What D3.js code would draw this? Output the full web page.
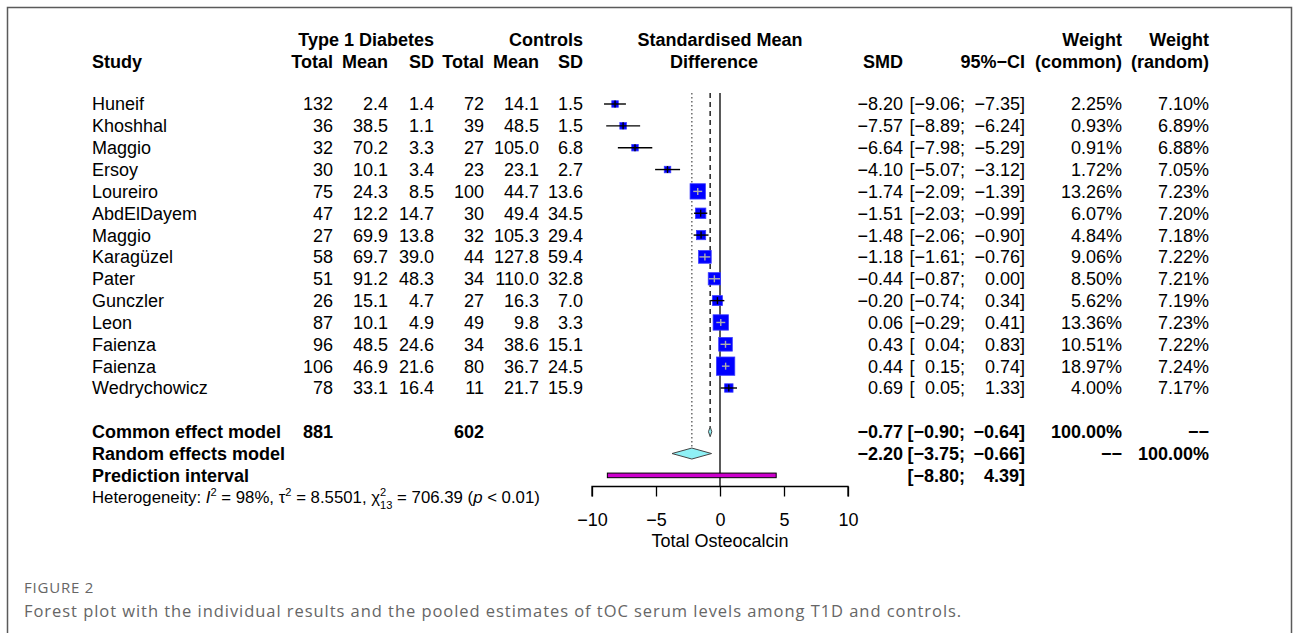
<!DOCTYPE html>
<html>
<head>
<meta charset="utf-8">
<script src="https://cdn.jsdelivr.net/npm/d3@7"></script>
<style>
  body { margin: 0; background: #fff; }
  svg { display: block; }
  text { font-family: "Liberation Sans", Arial, Helvetica, sans-serif; white-space: pre; }
  text.cap { font-family: "Open Sans", sans-serif; }
</style>
</head>
<body>
<svg id="chart" width="1293" height="633"></svg>
<script>
// ---------- data ----------
const studies   = ["Huneif","Khoshhal","Maggio","Ersoy","Loureiro","AbdElDayem","Maggio","Karagüzel","Pater","Gunczler","Leon","Faienza","Faienza","Wedrychowicz"];
const t1dTotal  = [132, 36, 32, 30, 75, 47, 27, 58, 51, 26, 87, 96, 106, 78];
const t1dMean   = ["2.4","38.5","70.2","10.1","24.3","12.2","69.9","69.7","91.2","15.1","10.1","48.5","46.9","33.1"];
const t1dSD     = ["1.4","1.1","3.3","3.4","8.5","14.7","13.8","39.0","48.3","4.7","4.9","24.6","21.6","16.4"];
const ctlTotal  = [72, 39, 27, 23, 100, 30, 32, 44, 34, 27, 49, 34, 80, 11];
const ctlMean   = ["14.1","48.5","105.0","23.1","44.7","49.4","105.3","127.8","110.0","16.3","9.8","38.6","36.7","21.7"];
const ctlSD     = ["1.5","1.5","6.8","2.7","13.6","34.5","29.4","59.4","32.8","7.0","3.3","15.1","24.5","15.9"];
const smd       = [-8.20, -7.57, -6.64, -4.10, -1.74, -1.51, -1.48, -1.18, -0.44, -0.20, 0.06, 0.43, 0.44, 0.69];
const ciLow     = [-9.06, -8.89, -7.98, -5.07, -2.09, -2.03, -2.06, -1.61, -0.87, -0.74, -0.29, 0.04, 0.15, 0.05];
const ciHigh    = [-7.35, -6.24, -5.29, -3.12, -1.39, -0.99, -0.90, -0.76, 0.00, 0.34, 0.41, 0.83, 0.74, 1.33];
const wCommon   = [2.25, 0.93, 0.91, 1.72, 13.26, 6.07, 4.84, 9.06, 8.50, 5.62, 13.36, 10.51, 18.97, 4.00];
const wRandom   = [7.10, 6.89, 6.88, 7.05, 7.23, 7.20, 7.18, 7.22, 7.21, 7.19, 7.23, 7.22, 7.24, 7.17];

const common    = {label: "Common effect model", t1d: 881, ctl: 602, est: -0.77, lo: -0.90, hi: -0.64, wc: "100.00%", wr: "−−"};
const random    = {label: "Random effects model", est: -2.20, lo: -3.75, hi: -0.66, wc: "−−", wr: "100.00%"};
const predict   = {label: "Prediction interval", lo: -8.80, hi: 4.39};
const xTicks    = [-10, -5, 0, 5, 10];
const xLabel    = "Total Osteocalcin";
const caption1  = "FIGURE 2";
const caption2  = "Forest plot with the individual results and the pooled estimates of tOC serum levels among T1D and controls.";

// ---------- helpers ----------
const minus = s => String(s).replace(/-/g, "−");
const f2 = v => minus(v.toFixed(2));

const svg = d3.select("#chart");
const FS = 18;

// frame
svg.append("path").attr("d", "M7.5,633 V7.5 H1291.5 V633")
  .attr("fill", "none").attr("stroke", "#5a5a5a").attr("stroke-width", 1.5);

// scales
const x = d3.scaleLinear().domain([-10, 10]).range([592, 848]);
const y = d3.scaleLinear().domain([0, 13]).range([104, 388]);
const yCommon = y(15), yRandom = y(16), yPred = y(17), yHet = y(18);
const yHead1 = 40, yHead2 = 62;
const axisY = 486.5;

function txt(xp, yp, s, opts = {}) {
  return svg.append("text")
    .attr("x", xp).attr("y", yp).attr("dy", "0.36em")
    .attr("text-anchor", opts.anchor || "end")
    .attr("font-size", opts.size || FS)
    .attr("font-weight", opts.bold ? "bold" : "normal")
    .attr("fill", opts.fill || "#000")
    .text(s);
}

// column right edges
const col = {t1dT: 333, t1dM: 388, t1dS: 434, ctlT: 484, ctlM: 539, ctlS: 583,
             smd: 903, ciL: 965, ciR: 1025, wc: 1122, wr: 1209, study: 92};

// ---------- header ----------
txt(col.t1dS, yHead1, "Type 1 Diabetes", {bold: true});
txt(col.ctlS, yHead1, "Controls", {bold: true});
txt(720, yHead1, "Standardised Mean", {bold: true, anchor: "middle"});
txt(714, yHead2, "Difference", {bold: true, anchor: "middle"});
txt(col.wc, yHead1, "Weight", {bold: true});
txt(col.wr, yHead1, "Weight", {bold: true});
txt(col.study, yHead2, "Study", {bold: true, anchor: "start"});
[["Total", col.t1dT], ["Mean", col.t1dM], ["SD", col.t1dS], ["Total", col.ctlT], ["Mean", col.ctlM], ["SD", col.ctlS],
 ["SMD", col.smd], ["95%−CI", col.ciR], ["(common)", col.wc], ["(random)", col.wr]]
  .forEach(([s, xp]) => txt(xp, yHead2, s, {bold: true}));

// ---------- CI text ----------
function ciText(yp, lo, hi, bold) {
  const probe = txt(0, -100, "−0.00;", {bold});
  const wl = probe.node().getComputedTextLength();
  probe.remove();
  txt(col.ciL - wl, yp, "[", {bold});
  txt(col.ciL, yp, f2(lo) + ";", {bold});
  txt(col.ciR, yp, f2(hi) + "]", {bold});
}

// ---------- study rows ----------
studies.forEach((s, i) => {
  const yp = y(i);
  txt(col.study, yp, s, {anchor: "start"});
  txt(col.t1dT, yp, t1dTotal[i]);
  txt(col.t1dM, yp, t1dMean[i]);
  txt(col.t1dS, yp, t1dSD[i]);
  txt(col.ctlT, yp, ctlTotal[i]);
  txt(col.ctlM, yp, ctlMean[i]);
  txt(col.ctlS, yp, ctlSD[i]);
  txt(col.smd, yp, f2(smd[i]));
  ciText(yp, ciLow[i], ciHigh[i], false);
  txt(col.wc, yp, wCommon[i].toFixed(2) + "%");
  txt(col.wr, yp, wRandom[i].toFixed(2) + "%");
});

// ---------- pooled rows ----------
txt(col.study, yCommon, common.label, {anchor: "start", bold: true});
txt(col.t1dT, yCommon, common.t1d, {bold: true});
txt(col.ctlT, yCommon, common.ctl, {bold: true});
txt(col.smd, yCommon, f2(common.est), {bold: true});
ciText(yCommon, common.lo, common.hi, true);
txt(col.wc, yCommon, common.wc, {bold: true});
txt(col.wr, yCommon, common.wr, {bold: true});

txt(col.study, yRandom, random.label, {anchor: "start", bold: true});
txt(col.smd, yRandom, f2(random.est), {bold: true});
ciText(yRandom, random.lo, random.hi, true);
txt(col.wc, yRandom, random.wc, {bold: true});
txt(col.wr, yRandom, random.wr, {bold: true});

txt(col.study, yPred, predict.label, {anchor: "start", bold: true});
ciText(yPred, predict.lo, predict.hi, true);

// heterogeneity line
(function () {
  const hs = 16.8;
  const pieces = [
    {t: "Heterogeneity: "}, {t: "I", it: true}, {t: "2", sup: true}, {t: " = 98%, τ"}, {t: "2", sup: true},
    {t: " = 8.5501, χ"}, {t: "2", sup: true, stack: "13"}, {t: " = 706.39 ("}, {t: "p", it: true}, {t: " < 0.01)"}
  ];
  let cx = col.study;
  const base = yHet + hs * 0.36;
  pieces.forEach(p => {
    const size = (p.sup ? hs * 0.66 : hs);
    const t = svg.append("text").attr("x", cx).attr("y", p.sup ? base - hs * 0.45 : base)
      .attr("font-size", size).attr("font-style", p.it ? "italic" : "normal").text(p.t);
    let w = t.node().getComputedTextLength();
    if (p.stack) {
      const t2 = svg.append("text").attr("x", cx).attr("y", base + hs * 0.34)
        .attr("font-size", size).text(p.stack);
      w = Math.max(w, t2.node().getComputedTextLength());
    }
    cx += w;
  });
})();

// ---------- forest plot ----------
const g = svg.append("g");
const yTop = 93;

// reference lines
g.append("line").attr("x1", x(0)).attr("x2", x(0)).attr("y1", yTop).attr("y2", axisY)
  .attr("stroke", "#000").attr("stroke-width", 1.3);
g.append("line").attr("x1", x(common.est)).attr("x2", x(common.est)).attr("y1", yTop).attr("y2", yCommon - 5)
  .attr("stroke", "#000").attr("stroke-width", 1.3).attr("stroke-dasharray", "5,4");
g.append("line").attr("x1", x(random.est)).attr("x2", x(random.est)).attr("y1", yTop).attr("y2", yRandom - 6)
  .attr("stroke", "#555").attr("stroke-width", 1.3).attr("stroke-dasharray", "1.5,2.5");

// squares & CIs
const maxW = d3.max(wCommon);
const side = w => Math.max(6.5, 18.3 * Math.sqrt(w / maxW));
studies.forEach((s, i) => {
  const yp = y(i);
  const sz = side(wCommon[i]);
  const cx = x(smd[i]);
  const ciW = x(ciHigh[i]) - x(ciLow[i]);
  g.append("rect").attr("x", cx - sz / 2).attr("y", yp - sz / 2).attr("width", sz).attr("height", sz)
    .attr("fill", "#0000ff").attr("stroke", "#3a3aff").attr("stroke-width", 0.8);
  const inside = ciW < sz;
  const c = inside ? "#b0b0b0" : "#000";
  g.append("line").attr("x1", x(ciLow[i])).attr("x2", x(ciHigh[i])).attr("y1", yp).attr("y2", yp)
    .attr("stroke", c).attr("stroke-width", 1.4);
  g.append("line").attr("x1", cx).attr("x2", cx).attr("y1", yp - 3.5).attr("y2", yp + 3.5)
    .attr("stroke", c).attr("stroke-width", 1.4);
});

// diamonds
function diamond(d, yp, h) {
  const pts = [[x(d.lo), yp], [x(d.est), yp - h / 2], [x(d.hi), yp], [x(d.est), yp + h / 2]];
  g.append("path").attr("d", "M" + pts.map(p => p.join(",")).join("L") + "Z")
    .attr("fill", "#8ff0f5").attr("stroke", "#444").attr("stroke-width", 1);
}
diamond(common, yCommon, 10);
diamond(random, yRandom, 11);

// prediction interval
g.append("rect").attr("x", x(predict.lo)).attr("y", yPred - 2.3)
  .attr("width", x(predict.hi) - x(predict.lo)).attr("height", 4.6)
  .attr("fill", "#cc00cc").attr("stroke", "#000").attr("stroke-width", 1);

// axis
const axis = d3.axisBottom(x).tickValues(xTicks).tickSize(10).tickPadding(17)
  .tickFormat(d => minus(d));
const ag = svg.append("g").attr("transform", `translate(0,${axisY})`).call(axis);
ag.select(".domain").attr("d", `M${x(-10)},10V0H${x(10)}V10`).attr("stroke", "#000").attr("stroke-width", 1.3);
ag.selectAll(".tick line").attr("stroke", "#000").attr("stroke-width", 1.3);
ag.selectAll(".tick text").attr("font-size", FS).attr("fill", "#000");
txt(720, 541, xLabel, {anchor: "middle"});

// ---------- caption ----------
svg.append("text").attr("class", "cap").attr("x", 24).attr("y", 593)
  .attr("font-size", 15).attr("letter-spacing", "0.8px").attr("fill", "#666").text(caption1);
svg.append("text").attr("class", "cap").attr("x", 24).attr("y", 617)
  .attr("font-size", 16.5).attr("letter-spacing", "0.95px").attr("fill", "#666").text(caption2);
</script>
</body>
</html>
